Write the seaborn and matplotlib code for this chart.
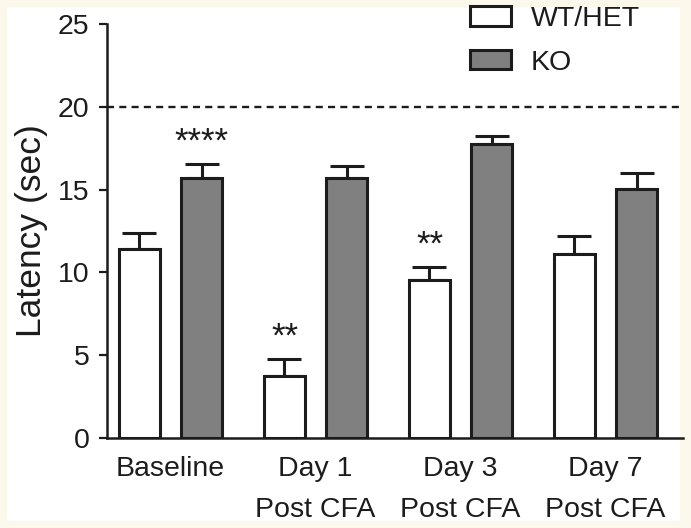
import matplotlib
matplotlib.use("Agg")
import matplotlib.pyplot as plt
import seaborn as sns
import pandas as pd
from matplotlib.patches import Rectangle

categories = ["Baseline", "Day 1\nPost CFA", "Day 3\nPost CFA", "Day 7\nPost CFA"]
groups = ["WT/HET", "KO"]
wt_mean = [11.4, 3.75, 9.55, 11.1]
wt_sem = [1.0, 1.0, 0.8, 1.1]
ko_mean = [15.7, 15.7, 17.75, 15.05]
ko_sem = [0.85, 0.7, 0.5, 0.95]
wt_sig = ["", "**", "**", ""]
ko_sig = ["****", "", "", ""]
y_ticks = [0, 5, 10, 15, 20, 25]
threshold = 20

rows = []
for i, c in enumerate(categories):
    rows.append({"cat": c, "grp": groups[0], "val": wt_mean[i]})
    rows.append({"cat": c, "grp": groups[1], "val": ko_mean[i]})
df = pd.DataFrame(rows)

sns.set_theme(style="ticks")
plt.rcParams["font.family"] = ["Liberation Sans", "DejaVu Sans"]
ink = "#1c1c1c"

W, H = 691, 528
fig = plt.figure(figsize=(W / 100, H / 100), dpi=100, facecolor="#fdf8ec")
bg = Rectangle((7 / W, 7 / H), (680 - 7) / W, (521 - 7) / H,
               transform=fig.transFigure, facecolor="white", edgecolor="none")
bg.set_zorder(-10)
fig.add_artist(bg)
ax = fig.add_axes([107 / W, 1 - 438 / H, (683 - 107) / W, (438 - 24) / H])
ax.set_zorder(1)
ax.set_facecolor("none")

sns.barplot(data=df, x="cat", y="val", hue="grp", order=categories, hue_order=groups,
            palette={"WT/HET": "white", "KO": "#808080"}, errorbar=None,
            width=0.857, gap=0.34, edgecolor=ink, linewidth=2.2, saturation=1,
            ax=ax, zorder=3)

bar_conts = list(ax.containers)
sems = [wt_sem, ko_sem]
sigs = [wt_sig, ko_sig]
for gi, cont in enumerate(bar_conts):
    for ci, bar in enumerate(cont.patches):
        xc = bar.get_x() + bar.get_width() / 2
        h = bar.get_height()
        e = sems[gi][ci]
        ax.errorbar([xc], [h], yerr=[[0], [e]], fmt="none", ecolor=ink,
                    elinewidth=2.2, capsize=12.5, capthick=2.2, zorder=2)
        if sigs[gi][ci]:
            ax.text(xc, h + e + 0.75, sigs[gi][ci], ha="center", va="baseline",
                    fontsize=25, color=ink)

ax.axhline(threshold, color=ink, lw=1.7, ls=(0, (3.0, 2.2)), zorder=1)

ax.set_ylim(0, 25)
ax.set_yticks(y_ticks)
ax.set_xlim(-0.438, 3.534)
ax.set_xlabel("")
ax.set_ylabel("Latency (sec)", fontsize=25.5, color=ink, labelpad=7)
ax.tick_params(axis="y", labelsize=20.5, length=5.5, width=1.6, color=ink,
               labelcolor=ink, pad=7)
ax.tick_params(axis="x", labelsize=20.5, length=0, labelcolor=ink, pad=13)
for lab in ax.get_xticklabels():
    lab.set_linespacing(1.75)
sns.despine(ax=ax)
for s in ["left", "bottom"]:
    ax.spines[s].set_linewidth(1.8)
    ax.spines[s].set_color(ink)

leg = ax.legend(loc="upper left", bbox_to_anchor=(470 / W, 1 - 6 / H),
                bbox_transform=fig.transFigure, frameon=False, fontsize=20.5,
                handlelength=1.45, handleheight=0.65, handletextpad=0.68,
                labelspacing=0.62, borderpad=0, borderaxespad=0)
for t in leg.get_texts():
    t.set_color(ink)

fig.savefig("out.png", dpi=100, facecolor=fig.get_facecolor())
